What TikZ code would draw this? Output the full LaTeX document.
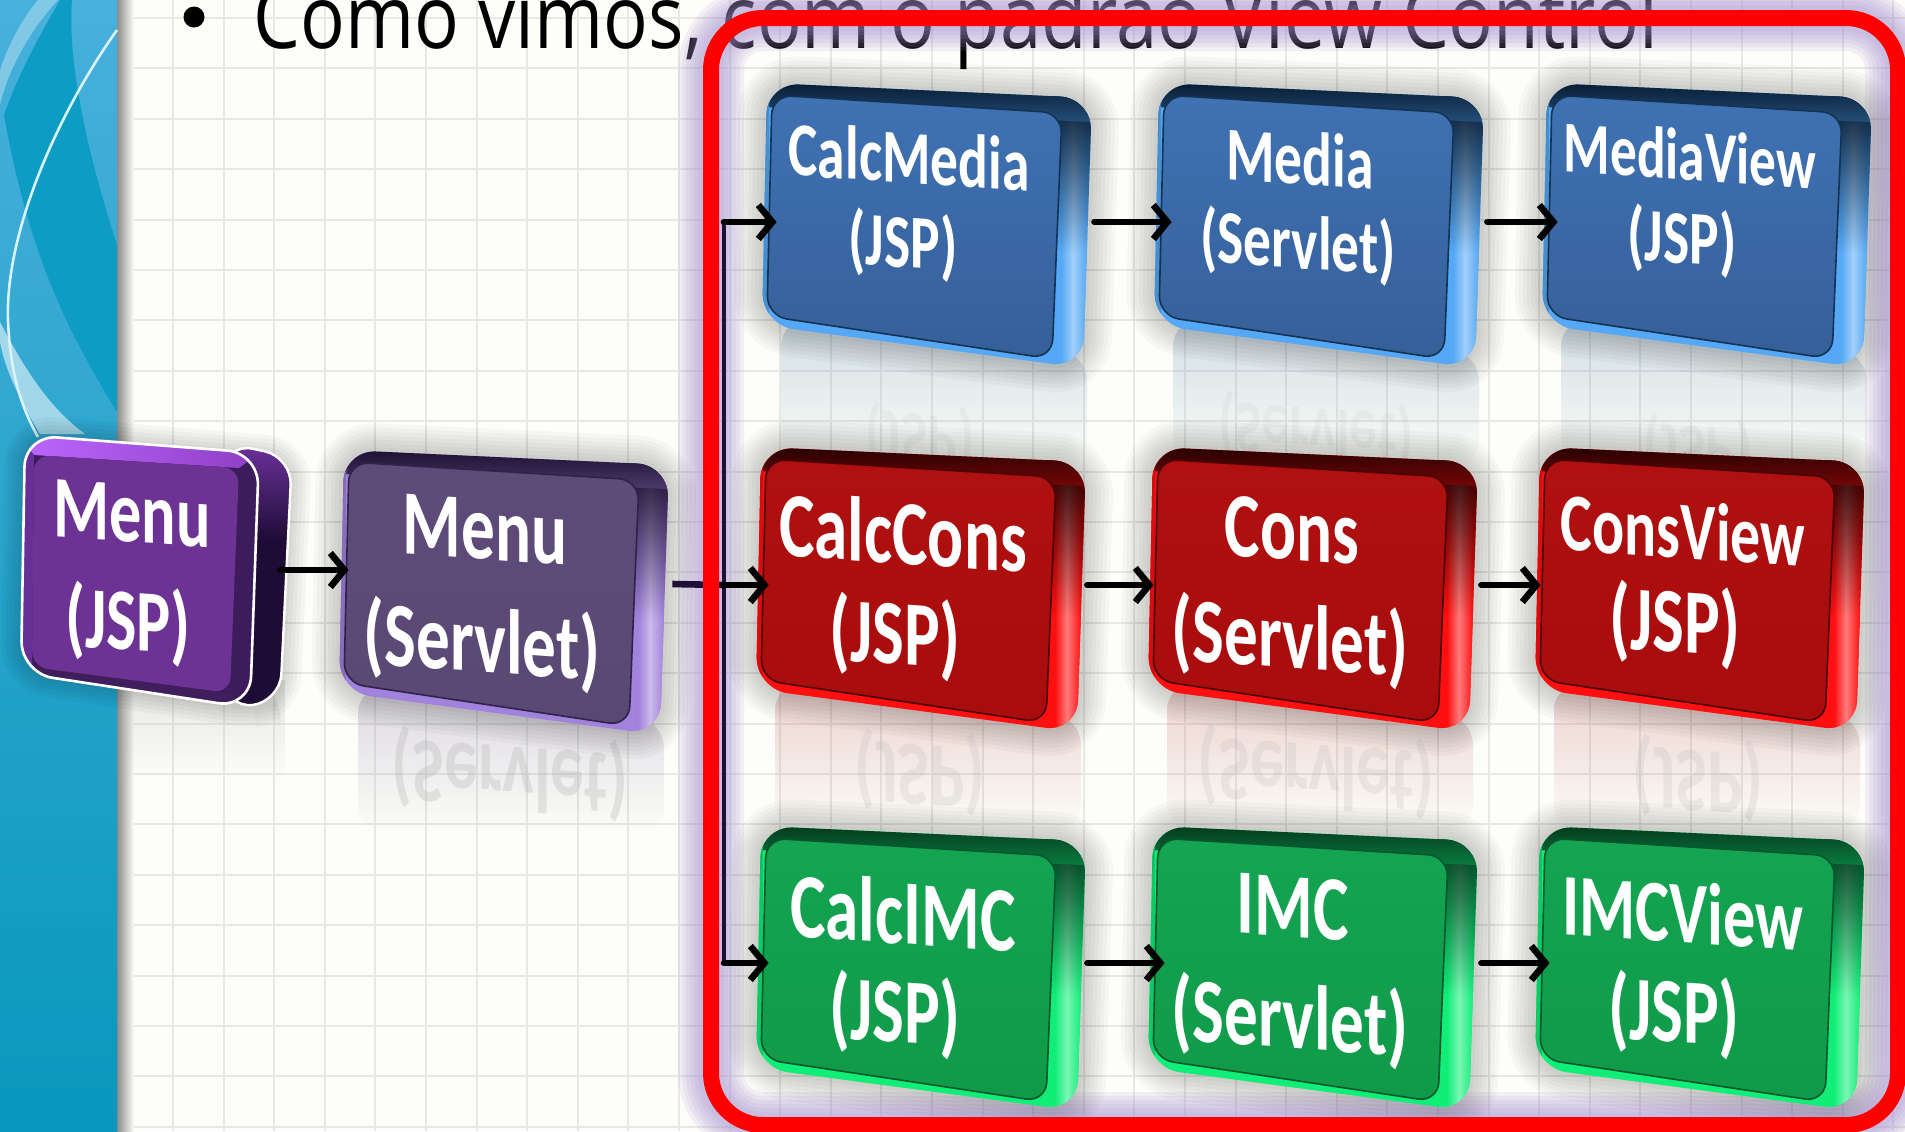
\documentclass[tikz,border=0pt]{standalone}
\usepackage{fontspec}
\setmainfont{Carlito}
\newfontfamily\titlefont{Open Sans}
\usetikzlibrary{arrows.meta,fadings}
\definecolor{paper}{HTML}{FDFEF9}
\definecolor{gridc}{HTML}{E7E9E3}
\definecolor{bevB}{HTML}{55A8F5}\definecolor{dkB}{HTML}{041428}\definecolor{faB}{HTML}{3F72B4}\definecolor{fbB}{HTML}{365F98}
\definecolor{bevR}{HTML}{FF0F0F}\definecolor{dkR}{HTML}{1A0000}\definecolor{faR}{HTML}{B01010}\definecolor{fbR}{HTML}{A80C0C}
\definecolor{bevG}{HTML}{10EE78}\definecolor{dkG}{HTML}{04301A}\definecolor{faG}{HTML}{14A452}\definecolor{fbG}{HTML}{109A48}
\definecolor{bevP}{HTML}{A182DC}\definecolor{dkP}{HTML}{150A26}\definecolor{faP}{HTML}{5E4B7A}\definecolor{fbP}{HTML}{5A4874}
\definecolor{glow}{HTML}{A78FD0}
\definecolor{trunkc}{HTML}{1E1036}
\definecolor{bandt}{HTML}{48B0DC}\definecolor{bandm}{HTML}{1EA6CC}\definecolor{bandb}{HTML}{0898BD}\definecolor{bandd}{HTML}{0D9DC4}
\definecolor{swline}{HTML}{DAF3FA}
\definecolor{jside}{HTML}{7034A0}\definecolor{jsideb}{HTML}{1E0C36}\definecolor{jbase}{HTML}{3C1C5C}
\definecolor{jtopl}{HTML}{BE69FF}\definecolor{jtopr}{HTML}{8C3CC3}\definecolor{jleft}{HTML}{683096}\definecolor{jbot}{HTML}{401E5C}\definecolor{jface}{HTML}{6C3294}
\tikzset{
  lbl/.style={text=white,inner sep=0pt,font=\fontsize{#1pt}{#1pt}\selectfont\bfseries,transform shape,yslant=-.07,xscale=.73},
  mirrortext/.style={text=white!70!black,inner sep=0pt,font=\fontsize{#1pt}{#1pt}\selectfont\bfseries,transform shape,yslant=-.07,xscale=.73,yscale=-1},
  port/.style={inner sep=0pt,minimum height=110pt},
  arr/.style={black,line width=3.3pt,line cap=round,-{Straight Barb[length=7pt,width=17pt,line width=3.3pt]}},
  trunk/.style={trunkc,line width=2.4pt},
  gridline/.style={gridc,line width=1pt},
}
\newcommand\outerq{(2,0) -- (327,15) -- (318,285) -- (-3,242) -- cycle}
\newcommand\innerq{(7,12) -- (297,30) -- (287,276) -- (2,233) -- cycle}
\newcommand\tdbox[3]{% x, y, scheme
\begin{scope}[shift={(#1,#2)}]
  \foreach \w in {8,16,24,32,40,48,56}{\draw[black,opacity=.028,line width=\w*.5pt,rounded corners=16pt] \outerq;}
  \begin{scope}
    \path[clip,rounded corners=16pt] \outerq;
    \fill[bev#3] (-10,-10) rectangle (340,300);
    \fill[bev#3!85!black] (-10,-10) rectangle (4,300);
    \shade[left color=bev#3,right color=bev#3!55!white] (296,10) rectangle (308,300);
    \shade[left color=bev#3!55!white,right color=bev#3] (308,10) rectangle (322,300);
    \fill[dk#3,path fading=south] (285,8) rectangle (335,170);
    \shade[rotate=-2.64,top color=dk#3,bottom color=dk#3!60!bev#3] (-10,-6) rectangle (340,24);
    \fill[bev#3!80!black] (-6,10) -- (5,14) -- (0,60) -- (-6,60) -- cycle;
  \end{scope}
  \path[draw=dk#3!80!bev#3,line width=.8pt,rounded corners=10pt,top color=fa#3,bottom color=fb#3] \innerq;
\end{scope}}
\newcommand\boxghost[4]{% x, y, scheme, opacity
\begin{scope}[shift={(#1,#2)}]
  \path[fill=bev#3!45!gray,opacity=#4,path fading=south,rounded corners=14pt] (16,235) -- (322,270) -- (322,385) -- (16,385) -- cycle;
\end{scope}}
\begin{document}
\begin{tikzpicture}[x=.5pt,y=-.5pt]
\useasboundingbox (0,0) rectangle (1905,1131);
\clip (0,0) rectangle (1905,1131);
% paper and grid
\fill[paper] (0,0) rectangle (1905,1131);
\foreach \k in {0,...,34}{\draw[gridline] ({173+50.6*\k},0) -- ({173+50.6*\k},1131);}
\foreach \k in {0,...,22}{\draw[gridline] (117,{18+50.4*\k}) -- (1905,{18+50.4*\k});}
% left band
\shade[left color=black!45,right color=paper] (117,0) rectangle (134,1131);
\path[top color=bandt,middle color=bandm,bottom color=bandb] (0,0) rectangle (117,1131);
\fill[bandd] (72,0) .. controls (68,50) and (80,130) .. (117,245) -- (117,412) .. controls (70,335) and (30,260) .. (4,115) .. controls (20,70) and (40,35) .. (60,0) -- cycle;
\fill[white,opacity=.32] (58,0) .. controls (30,30) and (8,70) .. (0,105) -- (0,70) .. controls (10,40) and (25,15) .. (38,0) -- cycle;
\fill[white,opacity=.55] (0,322) .. controls (30,380) and (55,412) .. (85,434) -- (40,434) .. controls (20,400) and (5,370) .. (0,342) -- cycle;
\draw[swline,line width=1.3pt] (117,30) .. controls (60,110) and (5,230) .. (8,320) .. controls (10,370) and (20,405) .. (38,437);
% title
\node[circle,fill=black,inner sep=0pt,minimum size=10.5pt] (bul) at (194,17) {};
\node[anchor=base west,inner sep=0pt,font=\titlefont\fontsize{44pt}{44pt}\selectfont,transform shape,xscale=.845] (title) at (253,48) {Como vimos, com o padrão View Control};
% glow of the frame
\foreach \w in {66,58,50,42,34,26}{\draw[glow,opacity=.13,line width=\w*.5pt,rounded corners=26pt] (711,18) rectangle (1898,1125);}
% reflections
\begin{scope}\clip (700,300) rectangle (1905,470);
\boxghost{765}{83}{B}{.3}\boxghost{1157}{83}{B}{.3}\boxghost{1545}{83}{B}{.3}
\node[mirrortext=38,opacity=.12] (rj1) at (920,437) {(JSP)};
\node[mirrortext=38,opacity=.12] (rs1) at (1316,431) {(Servlet)};
\node[mirrortext=38,opacity=.12] (rj2) at (1698,449) {(JSP)};
\end{scope}
\begin{scope}\clip (300,640) rectangle (1905,830);
\boxghost{759}{447}{R}{.25}\boxghost{1151}{447}{R}{.25}\boxghost{1538}{447}{R}{.25}\boxghost{342}{450}{P}{.3}
\node[mirrortext=46,opacity=.2] (rj3) at (920,772) {(JSP)};
\node[mirrortext=46,opacity=.2] (rs2) at (1316,772) {(Servlet)};
\node[mirrortext=46,opacity=.2] (rj4) at (1698,778) {(JSP)};
\node[mirrortext=46,opacity=.3] (rs3) at (510,774) {(Servlet)};
\end{scope}
\path[fill=black!30,opacity=.3,path fading=south] (125,680) -- (285,680) -- (285,780) -- (125,780) -- cycle;
% Menu JSP box
\foreach \w in {8,16,24,32,40}{\draw[black,opacity=.03,line width=\w*.5pt,rounded corners=14pt] (25,435) -- (292,457) -- (280,702) -- (250,708) -- (21,673) -- cycle;}
\begin{scope}
  \path[clip,rounded corners=14pt] (225,443) -- (292,457) -- (280,702) -- (225,708) -- cycle;
  \fill[jsideb] (220,430) rectangle (300,720);
  \fill[jside,path fading=south] (220,440) rectangle (300,540);
\end{scope}
\draw[white,line width=1.2pt,rounded corners=14pt] (225,443) -- (292,457) -- (280,702) -- (225,708) -- cycle;
\begin{scope}
  \path[clip,rounded corners=16pt] (25,435) -- (259,453) -- (250,708) -- (21,673) -- cycle;
  \fill[jbase] (0,420) rectangle (280,720);
  \path[left color=jtopl,right color=jtopr] (10,425) -- (270,445) -- (239,468) -- (34,455) -- cycle;
  \fill[jleft] (10,425) -- (34,455) -- (32,667) -- (10,680) -- cycle;
  \fill[jbot] (10,670) -- (32,667) -- (230,693) -- (260,720) -- (10,720) -- cycle;
\end{scope}
\fill[jface,rounded corners=8pt] (34,455) -- (239,468) -- (230,693) -- (32,667) -- cycle;
\draw[white,line width=1.3pt,rounded corners=16pt] (25,435) -- (259,453) -- (250,708) -- (21,673) -- cycle;
% 3D boxes
\tdbox{342}{450}{P}
\tdbox{765}{83}{B}\tdbox{1157}{83}{B}\tdbox{1545}{83}{B}
\tdbox{759}{447}{R}\tdbox{1151}{447}{R}\tdbox{1538}{447}{R}
\tdbox{759}{826}{G}\tdbox{1151}{826}{G}\tdbox{1538}{826}{G}
% invisible ports (edges of the boxes, at the height of the connectors)
\node[port,minimum width=115pt] (mj) at (165,570) {};
\node[port,minimum width=161.5pt] (ms) at (510.5,584) {};
\node[port,minimum width=158.5pt] (cm) at (935.5,222) {};
\node[port,minimum width=157.5pt] (md) at (1329.5,222) {};
\node[port,minimum width=150pt] (mv) at (1708,222) {};
\node[port,minimum width=159pt] (cc) at (928,585) {};
\node[port,minimum width=163.5pt] (cn) at (1317.5,585) {};
\node[port,minimum width=150pt] (cv) at (1691,585) {};
\node[port,minimum width=159pt] (ci) at (928,963) {};
\node[port,minimum width=158pt] (im) at (1323,963) {};
\node[port,minimum width=150pt] (iv) at (1700,963) {};
\coordinate (tj) at (724,585);
\coordinate (tt) at (724,222);
\coordinate (tb) at (724,963);
% labels
\node[lbl=44] (t1) at (132,514) {Menu};
\node[lbl=44] (t2) at (128,624) {(JSP)};
\node[lbl=46] (t3) at (485,530) {Menu};
\node[lbl=46] (t4) at (482,645) {(Servlet)};
\node[lbl=38] (t5) at (909,157) {CalcMedia};
\node[lbl=38] (t6) at (903,245) {(JSP)};
\node[lbl=38] (t7) at (1300,158) {Media};
\node[lbl=38] (t8) at (1298,246) {(Servlet)};
\node[lbl=36.5] (t9) at (1690,155) {MediaView};
\node[lbl=38] (t10) at (1682,241) {(JSP)};
\node[lbl=46] (t11) at (903,532) {CalcCons};
\node[lbl=46] (t12) at (895,637) {(JSP)};
\node[lbl=46] (t13) at (1292,530) {Cons};
\node[lbl=46] (t14) at (1290,641) {(Servlet)};
\node[lbl=41] (t15) at (1683,530) {ConsView};
\node[lbl=46] (t16) at (1675,625) {(JSP)};
\node[lbl=46] (t17) at (903,912) {CalcIMC};
\node[lbl=46] (t18) at (895,1015) {(JSP)};
\node[lbl=46] (t19) at (1293,907) {IMC};
\node[lbl=46] (t20) at (1290,1021) {(Servlet)};
\node[lbl=44] (t21) at (1683,912) {IMCView};
\node[lbl=46] (t22) at (1674,1015) {(JSP)};
% connectors
\draw[arr] (mj.east) -- (mj.east -| ms.west);
\draw[trunkc,line width=3.3pt] (ms.east) -- (tj);
\draw[trunk] (tt) -- (tb);
\draw[arr] (tj) -- (cc.west);
\draw[arr] (tt) -- (cm.west);
\draw[arr] (tb) -- (ci.west);
\draw[arr] (cm.east) -- (md.west);
\draw[arr] (md.east) -- (mv.west);
\draw[arr] (cc.east) -- (cn.west);
\draw[arr] (cn.east) -- (cv.west);
\draw[arr] (ci.east) -- (im.west);
\draw[arr] (im.east) -- (iv.west);
% red frame
\draw[red,line width=8pt,rounded corners=26pt] (711,18) rectangle (1898,1125);
\end{tikzpicture}
\end{document}
